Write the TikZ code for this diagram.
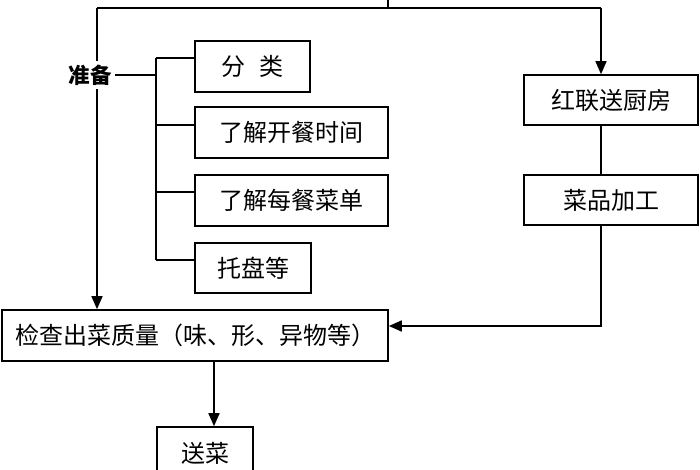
\documentclass[tikz,border=0pt]{standalone}
\usepackage{fontspec}
\newfontfamily\cjk{Noto Sans CJK SC}
\usetikzlibrary{arrows.meta}
\begin{document}
\begin{tikzpicture}[x=1pt,y=-1pt,line width=1.6pt,
  box/.style={draw,rectangle,inner sep=0pt,font=\cjk\fontsize{24}{26}\selectfont},
  lbl/.style={inner sep=3pt,font=\cjk\bfseries\fontsize{21.5}{23}\selectfont},
  arr/.style={-{Triangle[length=13pt,width=11pt]}}]
\useasboundingbox (0,0) rectangle (700,470);
\clip (0,0) rectangle (700,470);
% boxes
\node[box,minimum width=115,minimum height=51] (fenlei) at (252.5,66.5) {分\hspace{0.6em}类};
\node[box,minimum width=193,minimum height=51] (kaican) at (291.5,132.5) {了解开餐时间};
\node[box,minimum width=193,minimum height=51] (caidan) at (291.5,200.5) {了解每餐菜单};
\node[box,minimum width=116,minimum height=50] (tuopan) at (253,268) {托盘等};
\node[box,minimum width=174,minimum height=50] (hong) at (611,100) {红联送厨房};
\node[box,minimum width=174,minimum height=50] (jiagong) at (611,200) {菜品加工};
\node[box,minimum width=386,minimum height=51] (jiancha) at (195,335.5) {检查出菜质量（味、形、异物等）};
\node[box,minimum width=96,minimum height=52] (songcai) at (205,453) {送菜};
\node[lbl] (zb) at (90,75) {准备};
% coordinates
\coordinate (top) at (388,0);
\coordinate (tj) at (388,8);
\coordinate (tl) at (97,8);
\coordinate (tr) at (601,8);
\coordinate (bx) at (156,75);
\coordinate (b1) at (156,58);
\coordinate (b2) at (156,125);
\coordinate (b3) at (156,192);
\coordinate (b4) at (156,260);
\coordinate (cr) at (601,326);
\coordinate (dx) at (214,400);
% connectors
\draw (top) -- (tj);
\draw (tl) -- (tr);
\draw[arr] (tr) -- (tr |- hong.north);
\draw (tl) -- (tl |- zb.north);
\draw[arr] (tl |- zb.south) -- (tl |- jiancha.north);
\draw (zb.east) -- (bx);
\draw (b1) -- (b4);
\draw (b1) -- (b1 -| fenlei.west);
\draw (b2) -- (b2 -| kaican.west);
\draw (b3) -- (b3 -| caidan.west);
\draw (b4) -- (b4 -| tuopan.west);
\draw (tr |- hong.south) -- (tr |- jiagong.north);
\draw[arr] (tr |- jiagong.south) -- (cr) -- (cr -| jiancha.east);
\draw[arr] (dx |- jiancha.south) -- (dx |- songcai.north);
\end{tikzpicture}
\end{document}
